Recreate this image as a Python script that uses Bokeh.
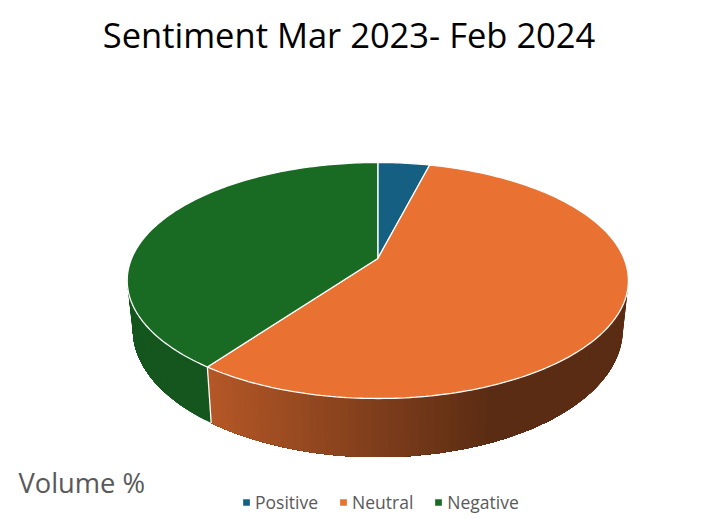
import numpy as np
from bokeh.plotting import figure
from bokeh.embed import file_html
from bokeh.resources import INLINE
from bokeh.models import Label, Legend, LegendItem

categories = ["Positive", "Neutral", "Negative"]
volume = [4, 56, 40]
colors = ["#156082", "#E97132", "#196B24"]
title_text = "Sentiment Mar 2023- Feb 2024"
axis_text = "Volume %"

CX, CY, K, A, B = 377.3, 258.0, 0.1864, 113.9, 246.2
RX = B / np.sqrt(1 - K ** 2)
BX, BY, BRX, BRY = 377.3, 329.0, 245.0, 127.6


def rim(t):
    u, v = np.sin(t), np.cos(t)
    w = 1 + K * v
    return CX + B * u / w, CY - A * v / w


def bottom(t):
    x, _ = rim(t)
    s = np.clip((x - CX) / RX, -1, 1)
    return BX + BRX * s, BY + BRY * np.sqrt(1 - s ** 2)


def shade(hex_color, m):
    rgb = [int(hex_color[i:i + 2], 16) for i in (1, 3, 5)]
    return "#%02x%02x%02x" % tuple(int(round(c * m)) for c in rgb)


p = figure(width=700, height=515, x_range=(0, 700), y_range=(515, 0),
           output_backend="svg", toolbar_location=None,
           min_border=0, outline_line_color=None)
p.xaxis.visible = False
p.yaxis.visible = False
p.grid.visible = False
p.background_fill_color = "white"
p.border_fill_color = "white"

fractions = np.cumsum([0] + volume) / sum(volume)
edges = fractions * 2 * np.pi
front_a = np.pi / 2 + np.arcsin(K)
front_b = 2 * np.pi - front_a

# extruded side: overlapping layers, painted right to left, carry the lighting gradient
for i, col in enumerate(colors):
    a, b = max(edges[i], front_a), min(edges[i + 1], front_b)
    if b <= a:
        continue
    ts = np.linspace(a, b, max(2, int(np.degrees(b - a) / 1.5) + 1))
    for j in range(len(ts) - 1):
        rest = ts[j:]
        rx_, ry_ = rim(rest)
        bx_, by_ = bottom(rest)
        xm = float(rim((ts[j] + ts[j + 1]) / 2)[0])
        if i == 2:
            m = 0.80
        else:
            m = float(np.interp(xm, [210, 490], [0.77, 0.39]))
        p.patch(np.r_[rx_, bx_[::-1]], np.r_[ry_, by_[::-1]], fill_color=shade(col, m), line_color=None)

# white seam between side faces
for e in edges[1:-1]:
    if front_a < e < front_b:
        xa, ya = rim(e)
        xb, yb = bottom(e)
        p.line([xa, xb], [ya, yb], line_color="white", line_width=1.3)

# top faces
items = []
for i, (name, col) in enumerate(zip(categories, colors)):
    ts = np.linspace(edges[i], edges[i + 1], max(3, int(np.degrees(edges[i + 1] - edges[i])) + 1))
    x, y = rim(ts)
    r = p.patch(np.r_[CX, x], np.r_[CY, y], fill_color=col, line_color="white", line_width=1.3)
    items.append(LegendItem(label=name, renderers=[r]))

legend = Legend(items=items, orientation="horizontal", location=(241, 1),
                background_fill_alpha=0, border_line_color=None,
                glyph_width=10, glyph_height=10, label_standoff=4, spacing=20,
                margin=0, padding=0,
                label_text_font="Open Sans", label_text_font_size="17.5px",
                label_text_color="#595959")
p.add_layout(legend, "center")

p.add_layout(Label(x=348.5, y=34, text=title_text, text_align="center", text_baseline="middle",
                   text_font="Open Sans", text_font_size="34.5px", text_color="#000000"))
p.add_layout(Label(x=18, y=482, text=axis_text, text_align="left", text_baseline="middle",
                   text_font="Open Sans", text_font_size="27.3px", text_color="#595959"))

open("out.html", "w").write(file_html(p, INLINE))
